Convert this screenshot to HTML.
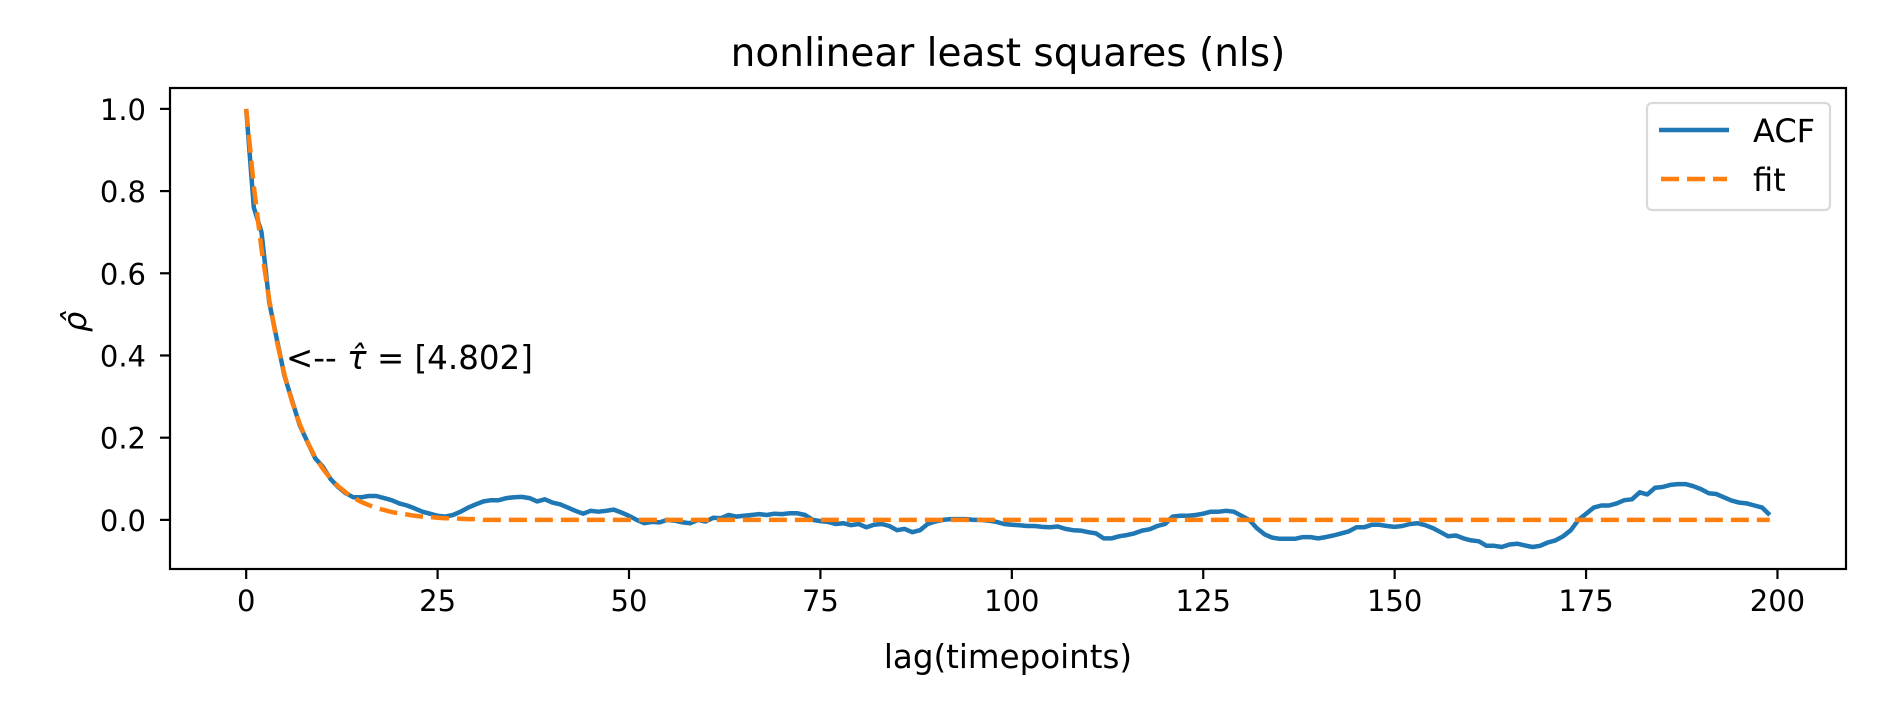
<!DOCTYPE html>
<html><head><meta charset="utf-8"><style>
html,body{margin:0;padding:0;background:#fff}
svg text{font-family:"DejaVu Sans","Liberation Sans",sans-serif;fill:#000}
</style></head><body>
<svg id="chart" width="1881" height="706" viewBox="0 0 1881 706" xmlns="http://www.w3.org/2000/svg">
<rect width="1881" height="706" fill="#fff"/>
<text x="1008" y="66" font-size="39" text-anchor="middle">nonlinear least squares (nls)</text>
<g id="xticks"></g>
<g id="yticks"></g>
<g id="series"></g>
<rect x="170" y="88" width="1676" height="481" fill="none" stroke="#000" stroke-width="2.2"/>
<text x="1008" y="668" font-size="32.5" text-anchor="middle">lag(timepoints)</text>
<text transform="translate(86,322) rotate(-90)" font-size="32" font-style="italic" text-anchor="middle">ρ̂</text>
<text x="286" y="369" font-size="32.5">&lt;-- <tspan font-style="italic">τ̂</tspan> = [4.802]</text>
<g>
<rect x="1647" y="103" width="183" height="107" rx="5" fill="#fff" stroke="#d9d9d9" stroke-width="2.2"/>
<line x1="1659" y1="130" x2="1729" y2="130" stroke="#1f77b4" stroke-width="4.5"/>
<text x="1753" y="142" font-size="32">ACF</text>
<line x1="1661" y1="179" x2="1727" y2="179" stroke="#ff7f0e" stroke-width="4.5" stroke-dasharray="18,8"/>
<text x="1753" y="191" font-size="32">fit</text>
</g>
</svg>
<script>
const acfValues = [1.0,0.76,0.70,0.53,0.44,0.35,0.29,0.23,0.19,0.15,0.13,0.10,0.08,0.065,0.055,0.055,0.058,0.058,0.053,0.048,
0.04,0.035,0.028,0.02,0.015,0.01,0.008,0.012,0.02,0.03,0.038,0.045,0.048,0.048,0.053,0.055,0.056,0.053,0.045,0.05,
0.042,0.038,0.03,0.022,0.015,0.022,0.02,0.022,0.025,0.018,0.01,0.0,-0.008,-0.005,-0.006,0.0,-0.002,-0.006,-0.008,0.0,
-0.004,0.005,0.004,0.012,0.008,0.01,0.012,0.014,0.012,0.015,0.014,0.016,0.016,0.012,0.0,-0.003,-0.005,-0.01,-0.008,-0.013,
-0.01,-0.018,-0.012,-0.01,-0.015,-0.025,-0.022,-0.03,-0.025,-0.01,-0.004,0.0,0.002,0.002,0.002,0.0,0.0,-0.002,-0.005,-0.01,
-0.012,-0.013,-0.015,-0.015,-0.017,-0.018,-0.016,-0.022,-0.025,-0.026,-0.03,-0.033,-0.045,-0.045,-0.04,-0.037,-0.033,-0.026,-0.023,-0.015,
-0.01,0.008,0.01,0.01,0.012,0.015,0.02,0.02,0.022,0.02,0.01,0.0,-0.02,-0.035,-0.043,-0.046,-0.046,-0.046,-0.042,-0.042,
-0.045,-0.042,-0.038,-0.033,-0.028,-0.018,-0.018,-0.012,-0.012,-0.015,-0.017,-0.015,-0.01,-0.008,-0.013,-0.02,-0.03,-0.04,-0.038,-0.045,
-0.05,-0.052,-0.063,-0.063,-0.066,-0.06,-0.058,-0.062,-0.066,-0.063,-0.055,-0.05,-0.04,-0.025,0.0,0.015,0.03,0.035,0.035,0.04,
0.048,0.05,0.067,0.062,0.078,0.08,0.085,0.087,0.087,0.082,0.075,0.065,0.063,0.055,0.047,0.042,0.04,0.035,0.03,0.012];
const fitHead = [1,0.812,0.659,0.536,0.435,0.353,0.287,0.233,0.189,0.153,0.125,0.101,0.082,0.067,0.054,0.044,0.036,0.029,0.024,0.019,
0.016,0.013,0.010,0.008,0.007,0.005,0.004,0.004,0.003,0.002,0.002];
const fitValues = fitHead.concat(new Array(200 - fitHead.length).fill(0));
const xTickLabels = [0,25,50,75,100,125,150,175,200];
const yTickLabels = [0.0,0.2,0.4,0.6,0.8,1.0];

const NS = "http://www.w3.org/2000/svg";
const X0 = 170, X1 = 1846, XMIN = -9.95, XMAX = 208.95;
const Y0 = 569, Y1 = 88, YMIN = -0.1195, YMAX = 1.0508;
function xs(v){ return X0 + (v - XMIN) / (XMAX - XMIN) * (X1 - X0); }
function ys(v){ return Y0 - (v - YMIN) / (YMAX - YMIN) * (Y0 - Y1); }
function mk(tag, attrs, parent){ const e = document.createElementNS(NS, tag); for (const k in attrs) e.setAttribute(k, attrs[k]); parent.appendChild(e); return e; }

const xg = document.getElementById('xticks');
xTickLabels.forEach(v => {
  const t = mk('line', {x1: xs(v), x2: xs(v), y1: 569, y2: 579, stroke: '#000', 'stroke-width': 2.2}, xg);
  
  
  const l = mk('text', {x: xs(v), y: 611, 'font-size': 29, 'text-anchor': 'middle'}, xg);
  l.textContent = String(v);
  
  
});
const yg = document.getElementById('yticks');
yTickLabels.forEach(v => {
  const t = mk('line', {x1: 160, x2: 170, y1: ys(v), y2: ys(v), stroke: '#000', 'stroke-width': 2.2}, yg);
  
  
  const l = mk('text', {x: 146, y: ys(v) + 11, 'font-size': 29, 'text-anchor': 'end'}, yg);
  l.textContent = v.toFixed(1);
  
  
});
const sg = document.getElementById('series');
const acfPts = acfValues.map((v, i) => xs(i).toFixed(1) + ',' + ys(v).toFixed(1)).join(' ');
const acfLine = mk('polyline', {points: acfPts, fill: 'none', stroke: '#1f77b4', 'stroke-width': 4.5, 'stroke-linejoin': 'round'}, sg);


const fitPts = fitValues.map((v, i) => xs(i).toFixed(1) + ',' + ys(v).toFixed(1)).join(' ');
const fitLine = mk('polyline', {points: fitPts, fill: 'none', stroke: '#ff7f0e', 'stroke-width': 4.5, 'stroke-dasharray': '18,8'}, sg);


</script>
</body></html>
